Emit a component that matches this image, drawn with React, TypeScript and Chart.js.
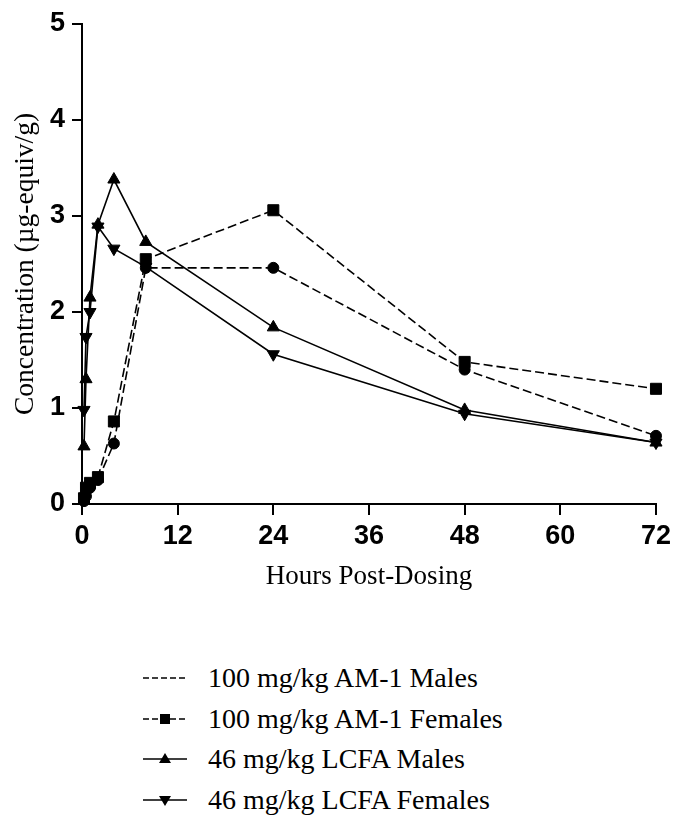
import React, { useEffect, useRef } from "react";
import { Chart, registerables } from "chart.js";

Chart.register(...registerables);

const hours = [0.25, 0.5, 1, 2, 4, 8, 24, 48, 72];
const am1Males = [0.03, 0.08, 0.17, 0.25, 0.63, 2.46, 2.46, 1.4, 0.71];
const am1Females = [0.06, 0.17, 0.22, 0.28, 0.86, 2.55, 3.06, 1.48, 1.2];
const lcfaMales = [0.6, 1.3, 2.15, 2.91, 3.38, 2.73, 1.84, 0.98, 0.64];
const lcfaFemales = [0.98, 1.74, 2.0, 2.89, 2.66, 2.47, 1.56, 0.94, 0.64];

const seriesLabels = [
  "100 mg/kg AM-1 Males",
  "100 mg/kg AM-1 Females",
  "46 mg/kg LCFA Males",
  "46 mg/kg LCFA Females",
];
const xTicks = [0, 12, 24, 36, 48, 60, 72];
const yTicks = [0, 1, 2, 3, 4, 5];

const toPoints = (vals: number[]) => hours.map((h, i) => ({ x: h, y: vals[i] }));

type Marker = "none" | "rect" | "up" | "down";
const legendMarkers: Marker[] = ["none", "rect", "up", "down"];
const legendDashed = [true, true, false, false];

function LegendSample({ marker, dashed }: { marker: Marker; dashed: boolean }) {
  const w = 44;
  const h = 20;
  const cy = h / 2;
  let m: React.ReactNode = null;
  if (marker === "rect") m = <rect x={w / 2 - 5} y={cy - 5} width={10} height={10} fill="#000" />;
  if (marker === "up")
    m = <polygon points={`${w / 2 - 6},${cy + 4} ${w / 2 + 6},${cy + 4} ${w / 2},${cy - 6}`} fill="#000" />;
  if (marker === "down")
    m = <polygon points={`${w / 2 - 6},${cy - 4} ${w / 2 + 6},${cy - 4} ${w / 2},${cy + 6}`} fill="#000" />;
  return (
    <svg width={w} height={h} style={{ position: "absolute", left: 143, top: -h / 2 }}>
      <line
        x1={0}
        y1={cy}
        x2={w}
        y2={cy}
        stroke="#000"
        strokeWidth={1.6}
        strokeDasharray={dashed ? "6 3" : undefined}
      />
      {m}
    </svg>
  );
}

export default function App() {
  const canvasRef = useRef<HTMLCanvasElement | null>(null);

  useEffect(() => {
    document.body.style.margin = "0";
    const canvas = canvasRef.current;
    if (!canvas) return;
    const common = {
      borderColor: "#000",
      backgroundColor: "#000",
      pointBackgroundColor: "#000",
      pointBorderColor: "#000",
      pointBorderWidth: 1,
      borderWidth: 1.6,
      fill: false,
      tension: 0,
      clip: false as const,
    };
    const tickFont = { family: "Liberation Sans", weight: "bold" as const, size: 27 };
    const titleFont = { family: "Liberation Serif", size: 27, weight: "normal" as const };
    const chart = new Chart(canvas, {
      type: "line",
      data: {
        datasets: [
          { ...common, label: seriesLabels[0], data: toPoints(am1Males), borderDash: [9, 4], pointStyle: "circle", pointRadius: 5.5 },
          { ...common, label: seriesLabels[1], data: toPoints(am1Females), borderDash: [9, 4], pointStyle: "rect", pointRadius: 7.8 },
          { ...common, label: seriesLabels[2], data: toPoints(lcfaMales), pointStyle: "triangle", pointRadius: 7 },
          { ...common, label: seriesLabels[3], data: toPoints(lcfaFemales), pointStyle: "triangle", pointRotation: 180, pointRadius: 7 },
        ],
      },
      options: {
        responsive: false,
        animation: false,
        layout: { padding: { top: 24, right: 19, left: 0, bottom: 0 } },
        plugins: { legend: { display: false }, tooltip: { enabled: false } },
        scales: {
          x: {
            type: "linear",
            min: 0,
            max: 72,
            afterFit: (s: any) => {
              s.height = 96;
            },
            afterBuildTicks: (s: any) => {
              s.ticks = xTicks.map((v) => ({ value: v }));
            },
            ticks: { color: "#000", padding: 5, font: tickFont, maxRotation: 0 },
            grid: { drawOnChartArea: false, color: "#000", tickLength: 11, tickWidth: 2, lineWidth: 2 },
            border: { display: true, color: "#000", width: 2 },
            title: {
              display: true,
              text: "Hours Post-Dosing",
              color: "#000",
              font: titleFont,
              padding: { top: 0, bottom: 7 },
            },
          },
          y: {
            type: "linear",
            min: 0,
            max: 5,
            afterFit: (s: any) => {
              s.width = 82;
            },
            afterBuildTicks: (s: any) => {
              s.ticks = yTicks.map((v) => ({ value: v }));
            },
            ticks: { color: "#000", padding: 7, font: tickFont },
            grid: { drawOnChartArea: false, color: "#000", tickLength: 10, tickWidth: 2, lineWidth: 2 },
            border: { display: true, color: "#000", width: 2 },
            title: {
              display: true,
              text: "Concentration (µg-equiv/g)",
              color: "#000",
              font: { family: "Liberation Serif", size: 27.5, weight: "normal" },
              padding: { top: 9, bottom: 0 },
            },
          },
        },
      },
    });
    return () => chart.destroy();
  }, []);

  const rowY = [678, 719, 759, 800];

  return (
    <div style={{ position: "relative", width: 676, height: 824, background: "#fff" }}>
      <canvas ref={canvasRef} width={676} height={600} style={{ display: "block" }} />
      {seriesLabels.map((lab, i) => (
        <div key={lab} style={{ position: "absolute", left: 0, top: rowY[i], width: 676, height: 0 }}>
          <LegendSample marker={legendMarkers[i]} dashed={legendDashed[i]} />
          <span
            style={{
              position: "absolute",
              left: 208,
              top: -17,
              fontFamily: "Liberation Serif",
              fontSize: 28,
              lineHeight: "34px",
              color: "#000",
              whiteSpace: "nowrap",
            }}
          >
            {lab}
          </span>
        </div>
      ))}
    </div>
  );
}
